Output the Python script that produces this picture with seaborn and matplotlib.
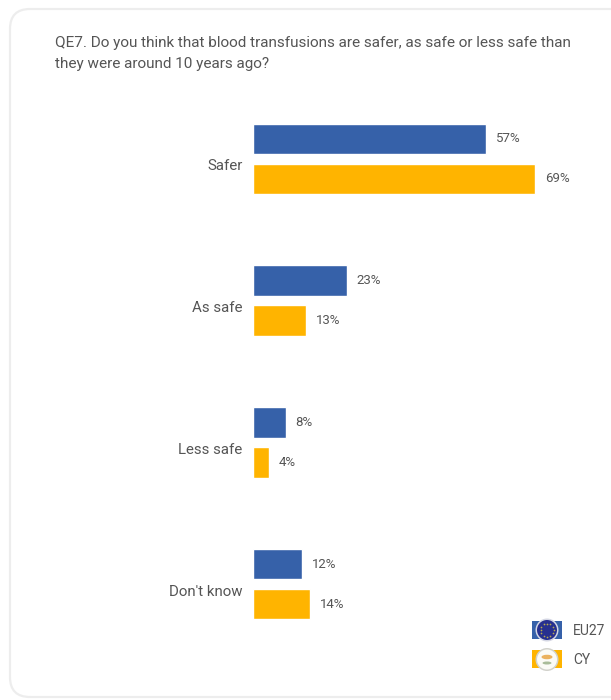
import numpy as np
import pandas as pd
import matplotlib
matplotlib.use("Agg")
import matplotlib.pyplot as plt
from matplotlib.patches import Circle, FancyBboxPatch, Rectangle, Ellipse
from matplotlib.transforms import ScaledTranslation
import seaborn as sns

categories = ["Safer", "As safe", "Less safe", "Don't know"]
series_names = ["EU27", "CY"]
eu27_values = [57, 23, 8, 12]
cy_values = [69, 13, 4, 14]
title_lines = ["QE7. Do you think that blood transfusions are safer, as safe or less safe than",
               "they were around 10 years ago?"]

BLUE = "#3661A9"
AMBER = "#FFB400"
INK = "#555555"
W, H = 611, 700

sns.set_theme(style="white")
plt.rcParams["font.family"] = ["Roboto", "DejaVu Sans"]

table = pd.DataFrame({
    "answer": categories * 2,
    "area": [series_names[0]] * 4 + [series_names[1]] * 4,
    "share": eu27_values + cy_values,
})

fig = plt.figure(figsize=(W / 100, H / 100), dpi=100, facecolor="white")

# Page-level layer in pixel units for the card outline and the flag legend
page = fig.add_axes([0, 0, 1, 1], zorder=0)
page.set_xlim(0, W)
page.set_ylim(H, 0)
page.axis("off")
page.add_patch(FancyBboxPatch((10, 9), 640, 688, boxstyle="round,pad=0,rounding_size=20",
                              fc="white", ec="#EDEDED", lw=1.6))

# Bar panel
left, right, top, bottom = 253, 580, 88, 655
ax = fig.add_axes([left / W, 1 - bottom / H, (right - left) / W, (bottom - top) / H],
                  zorder=1, facecolor="none")
sns.barplot(data=table, y="answer", x="share", hue="area", order=categories,
            hue_order=series_names, palette=[BLUE, AMBER], width=0.565, gap=0.24,
            saturation=1, legend=False, ax=ax)
ax.set_xlim(0, 80)
ax.set_ylim(3.5, -0.5)
ax.set_xlabel("")
ax.set_ylabel("")
ax.set_xticks([])
ax.tick_params(axis="y", length=0, pad=7.5, labelsize=10.8, labelcolor=INK)
sns.despine(ax=ax, left=True, bottom=True)

# Category names sit slightly below the centre of their bar pair
nudge = ScaledTranslation(0, -6 / 100, fig.dpi_scale_trans)
for label in ax.get_yticklabels():
    label.set_transform(label.get_transform() + nudge)

value_nudge = ScaledTranslation(0, -1 / 100, fig.dpi_scale_trans)
for bars in ax.containers:
    for text in ax.bar_label(bars, fmt="%g%%", padding=7, fontsize=9.5, color=INK):
        text.set_transform(text.get_transform() + value_nudge)

page.text(55, 43, title_lines[0], fontsize=10.95, color=INK, va="center")
page.text(55, 64, title_lines[1], fontsize=10.95, color=INK, va="center")

# EU27 legend flag
page.add_patch(Rectangle((532, 621), 30, 18, fc=BLUE, ec="none"))
page.add_patch(Circle((547, 630), 11.5, fc="#D5D7E4", ec="none"))
page.add_patch(Circle((547, 630), 10, fc="#27308F", ec="none"))
angles = np.linspace(0, 2 * np.pi, 12, endpoint=False)
page.scatter(547 + 6.5 * np.cos(angles), 630 + 6.5 * np.sin(angles), s=1.5, c="#B7A94F", linewidths=0)

# CY legend flag
page.add_patch(Rectangle((532, 650), 30, 18, fc=AMBER, ec="none"))
page.add_patch(Circle((547, 659.5), 11.5, fc="#D2D2CC", ec="none"))
page.add_patch(Circle((547, 659.5), 10, fc="#FBFBF6", ec="none"))
page.add_patch(Ellipse((547, 657), 11, 4.5, fc="#EBB25F", ec="none"))
page.add_patch(Ellipse((547, 663), 9, 3, fc="#A9BC99", ec="none"))

page.text(573, 631, series_names[0], fontsize=10, color=INK, va="center")
page.text(573, 660, series_names[1], fontsize=10, color=INK, va="center")

fig.savefig("out.png", dpi=100)
